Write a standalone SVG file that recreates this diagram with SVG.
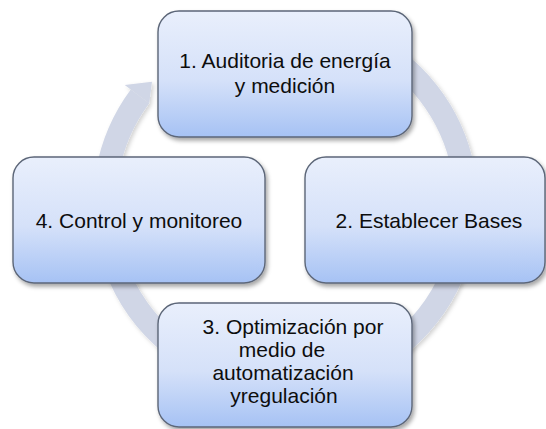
<svg xmlns="http://www.w3.org/2000/svg" width="546" height="429" viewBox="0 0 546 429">
  <style>
    .box { fill: url(#boxGrad); stroke: #5c6678; stroke-width: 1.4; filter: url(#shadow); }
    .lbl { font-family: "Liberation Sans", Arial, sans-serif; font-size: 21px; fill: #0d0d0d; text-anchor: middle; }
    .ring { fill: none; stroke: #d0d6e6; stroke-width: 23; }
    .head { fill: #d0d6e6; }
  </style>
  <defs>
    <linearGradient id="boxGrad" x1="0" y1="0" x2="0" y2="1">
      <stop offset="0" stop-color="#e9effc"/>
      <stop offset="0.55" stop-color="#d5e1f9"/>
      <stop offset="1" stop-color="#a6c2f4"/>
    </linearGradient>
    <filter id="shadow" x="-10%" y="-10%" width="125%" height="130%">
      <feDropShadow dx="2" dy="3" stdDeviation="2" flood-color="#000" flood-opacity="0.35"/>
    </filter>
    <filter id="ringShadow" x="-10%" y="-10%" width="125%" height="125%">
      <feDropShadow dx="2" dy="2" stdDeviation="2" flood-color="#000" flood-opacity="0.18"/>
    </filter>
  </defs>

  <g id="connectors" filter="url(#ringShadow)">
    <path class="ring" d="M 181.7 55.7 A 181 181 0 1 1 140.0 96.3"/>
    <polygon class="head" points="124.7,85.0 152.0,81.7 149.2,103.2"/>
  </g>

  <g id="node1">
    <rect class="box" x="158" y="11" width="254" height="126" rx="21" ry="21"/>
    <text class="lbl" x="285" y="68">1. Auditoria de energía</text>
    <text class="lbl" x="285" y="93">y medición</text>
  </g>

  <g id="node2">
    <rect class="box" x="305" y="157" width="240" height="126" rx="21" ry="21"/>
    <text class="lbl" x="429" y="228">2. Establecer Bases</text>
  </g>

  <g id="node3">
    <rect class="box" x="158" y="303" width="254" height="124" rx="21" ry="21"/>
    <text class="lbl" x="293" y="334">3. Optimización por</text>
    <text class="lbl" x="282" y="357">medio de</text>
    <text class="lbl" x="283" y="380">automatización</text>
    <text class="lbl" x="284" y="403">yregulación</text>
  </g>

  <g id="node4">
    <rect class="box" x="13" y="157" width="252" height="126" rx="21" ry="21"/>
    <text class="lbl" x="139" y="228">4. Control y monitoreo</text>
  </g>
</svg>
